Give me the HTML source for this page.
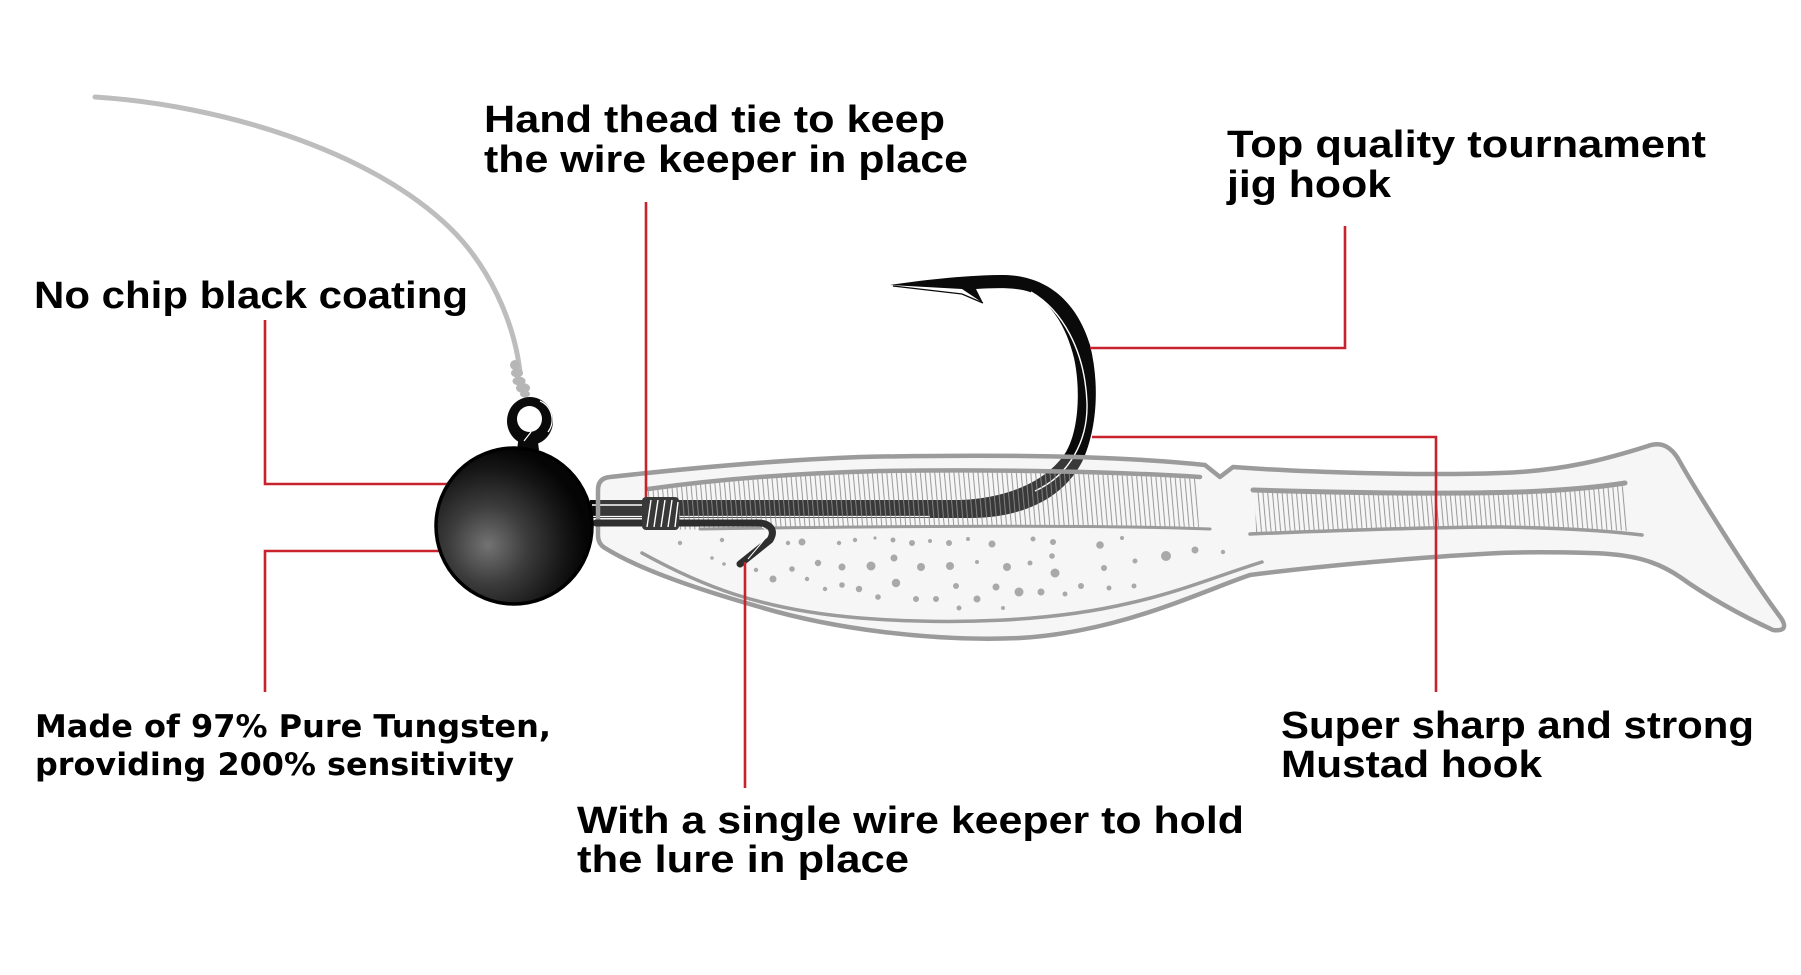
<!DOCTYPE html>
<html>
<head>
<meta charset="utf-8">
<style>
html,body{margin:0;padding:0;background:#fff;}
svg{display:block;}
</style>
</head>
<body>
<svg width="1801" height="975" viewBox="0 0 1801 975" xmlns="http://www.w3.org/2000/svg">
<defs>
  <radialGradient id="ballg" cx="488" cy="545" r="98" gradientUnits="userSpaceOnUse">
    <stop offset="0" stop-color="#737373"/>
    <stop offset="0.4" stop-color="#3c3c3c"/>
    <stop offset="0.78" stop-color="#161616"/>
    <stop offset="1" stop-color="#050505"/>
  </radialGradient>
  <pattern id="hatch" width="4.8" height="80" patternUnits="userSpaceOnUse" patternTransform="skewX(5)">
    <line x1="0.6" y1="0" x2="0.6" y2="80" stroke="#8c8c8c" stroke-width="0.9"/>
  </pattern>
  <path id="body" d="M610,477 C700,467 780,460 860,457 C1000,454 1120,456 1205,465 L1220,477 L1233,467 C1300,472 1420,476 1500,473 C1565,471 1610,458 1648,446 C1662,441 1672,447 1680,462 C1690,480 1745,570 1781,618 Q1790,632 1773,630 C1740,615 1705,595 1680,577 C1655,560 1630,554 1590,553 C1550,552 1525,552 1500,553 C1420,557 1320,566 1250,575 C1200,592 1120,632 1020,638 C930,642 830,628 760,607 C700,590 640,570 605,548 Q598,544 598,535 L598,490 Q598,478 610,477 Z"/>
</defs>

<rect width="1801" height="975" fill="#fff"/>

<!-- fishing line -->
<path d="M95,97 C220,105 370,150 450,228 C488,265 514,320 520,372" fill="none" stroke="#bdbdbd" stroke-width="5" stroke-linecap="round"/>

<!-- body fill -->
<use href="#body" fill="#f7f7f7"/>

<!-- hook -->
<path d="M590,500 L960,500 C1010,498 1048,480 1066,452 C1080,428 1080,385 1074,358 C1066,325 1050,302 1030,292 C1015,287 995,288 976,289 L983,303 L962,289 L890,285 C930,279 970,275 1005,275 C1050,276 1078,305 1090,345 C1100,385 1097,430 1082,462 C1062,500 1020,518 970,518 L590,518 Z" fill="#0a0a0a"/>
<path d="M893,286 L962,294 L983,303" stroke="#0a0a0a" stroke-width="1.3" fill="none"/>
<!-- shank highlights -->
<line x1="592" y1="505" x2="642" y2="505" stroke="#fff" stroke-width="1.6"/>
<line x1="592" y1="516.5" x2="930" y2="516.5" stroke="#fff" stroke-width="1.2"/>
<path d="M1031,292 C1062,310 1085,350 1087,403 C1088,440 1070,475 1035,491" fill="none" stroke="#fff" stroke-width="1.4"/>

<!-- translucent body over hook -->
<use href="#body" fill="rgba(247,247,247,0.2)"/>

<!-- hatched rib areas -->
<path d="M648,491 C720,481 800,475 880,473 C1000,471 1120,474 1196,479 L1199,527 C1100,526 900,527 648,530 Z" fill="url(#hatch)"/>
<path d="M1255,492 C1350,495 1450,496 1520,494 C1570,492 1600,489 1623,486 L1630,531 C1600,529 1560,527 1500,528 C1420,528 1330,530 1256,532 Z" fill="url(#hatch)"/>

<!-- body lines -->
<use href="#body" fill="none" stroke="#9b9b9b" stroke-width="4.5" stroke-linejoin="round"/>
<g fill="none" stroke="#9b9b9b" stroke-linecap="round">
  <path d="M648,489 C720,479 800,473 880,471 C1000,469 1120,472 1200,477" stroke-width="4.5"/>
  <path d="M700,529 C900,526 1100,525 1210,529" stroke-width="3"/>
  <path d="M1253,490 C1350,493 1450,494 1520,492 C1570,490 1600,487 1625,483" stroke-width="5"/>
  <path d="M1250,534 C1350,530 1440,527 1500,527 C1570,528 1610,531 1642,535" stroke-width="3.5"/>
  <path d="M642,553 C700,585 760,610 860,618 C950,625 1050,622 1130,603 C1180,592 1220,575 1262,562" stroke-width="3.5"/>
</g>

<!-- dots -->
<g fill="#a9a9a9">
<circle cx="680" cy="543" r="2.2"/><circle cx="722" cy="540" r="2.2"/><circle cx="712" cy="558" r="1.8"/>
<circle cx="724" cy="564" r="1.8"/><circle cx="756" cy="570" r="2.2"/><circle cx="788" cy="543" r="2.2"/>
<circle cx="802" cy="542" r="3.5"/><circle cx="792" cy="569" r="2.8"/><circle cx="818" cy="563" r="3.2"/>
<circle cx="773" cy="579" r="3.5"/><circle cx="807" cy="579" r="2.2"/><circle cx="825" cy="589" r="2.2"/>
<circle cx="839" cy="543" r="2.2"/><circle cx="855" cy="540" r="2.2"/><circle cx="842" cy="567" r="3.5"/>
<circle cx="842" cy="585" r="2.8"/><circle cx="859" cy="589" r="3.2"/><circle cx="871" cy="566" r="4.5"/>
<circle cx="878" cy="597" r="2.8"/><circle cx="875" cy="538" r="1.6"/><circle cx="893" cy="540" r="2.5"/>
<circle cx="894" cy="558" r="3.5"/><circle cx="896" cy="583" r="4.2"/><circle cx="912" cy="543" r="3"/>
<circle cx="930" cy="541" r="2"/><circle cx="949" cy="543" r="3"/><circle cx="968" cy="539" r="2"/>
<circle cx="992" cy="544" r="3.5"/><circle cx="1033" cy="539" r="2.5"/><circle cx="1053" cy="542" r="3"/>
<circle cx="1100" cy="545" r="3.8"/><circle cx="1122" cy="538" r="2"/><circle cx="921" cy="567" r="4"/>
<circle cx="950" cy="566" r="4"/><circle cx="977" cy="562" r="2"/><circle cx="1007" cy="567" r="4"/>
<circle cx="1030" cy="563" r="2.5"/><circle cx="1055" cy="573" r="4.5"/><circle cx="1052" cy="556" r="2.8"/>
<circle cx="1104" cy="568" r="3"/><circle cx="1135" cy="561" r="2.5"/><circle cx="1166" cy="556" r="5"/>
<circle cx="1195" cy="550" r="3.5"/><circle cx="1223" cy="552" r="2.2"/><circle cx="956" cy="586" r="3"/>
<circle cx="996" cy="587" r="3.5"/><circle cx="1019" cy="592" r="4.5"/><circle cx="1041" cy="592" r="3.5"/>
<circle cx="1065" cy="594" r="2.5"/><circle cx="1081" cy="586" r="3"/><circle cx="1109" cy="588" r="2.5"/>
<circle cx="1134" cy="586" r="2.5"/><circle cx="916" cy="599" r="3"/><circle cx="936" cy="599" r="3"/>
<circle cx="977" cy="599" r="3.5"/><circle cx="959" cy="608" r="2.5"/><circle cx="1003" cy="608" r="2"/>
</g>

<!-- wire keeper -->
<path d="M596,523 L758,523 C770,523 776,530 770,540 L740,564" fill="none" stroke="#2e2e2e" stroke-width="7" stroke-linecap="round" stroke-linejoin="round"/>
<path d="M762,527 C767,529 768,534 764,540 L748,559" fill="none" stroke="#fff" stroke-width="1"/>

<!-- thread wrap -->
<rect x="642" y="497" width="37" height="33" rx="4" fill="#383838"/>
<g stroke="#fff" stroke-width="1.4">
  <line x1="647" y1="527" x2="651" y2="500"/>
  <line x1="654" y1="527" x2="658" y2="500"/>
  <line x1="661" y1="527" x2="665" y2="500"/>
  <line x1="668" y1="527" x2="672" y2="500"/>
  <line x1="675" y1="527" x2="678" y2="502"/>
</g>

<!-- red leader lines -->
<g fill="none" stroke="#c8232c" stroke-width="2.6">
  <path d="M265,320 V484 H450"/>
  <path d="M441,551 H265 V692"/>
  <path d="M646,202 V497"/>
  <path d="M1345,226 V348 H1090"/>
  <path d="M1092,437 H1436 V692"/>
  <path d="M745,562 V788"/>
</g>

<!-- knots -->
<g fill="#b6b6b6">
  <ellipse cx="515" cy="365" rx="5" ry="5"/>
  <ellipse cx="517" cy="373" rx="6" ry="4.5"/>
  <ellipse cx="519" cy="381" rx="6.5" ry="4.5"/>
  <ellipse cx="523" cy="388" rx="7" ry="5"/>
  <ellipse cx="525" cy="394" rx="5" ry="3.5"/>
</g>

<!-- eye -->
<path d="M519,435 L537,435 L539,450 L517,450 Z" fill="#0a0a0a"/>
<ellipse cx="530" cy="421" rx="23" ry="24" fill="#0a0a0a"/>
<ellipse cx="529.5" cy="419" rx="12.5" ry="13" fill="#fff"/>
<path d="M540,401 A19,20 0 0 1 548,432" fill="none" stroke="#fff" stroke-width="1.3"/>
<path d="M524,441 L531,432" stroke="#fff" stroke-width="1.2"/>

<!-- ball -->
<circle cx="514" cy="526" r="78" fill="url(#ballg)" stroke="#000" stroke-width="3.5"/>

<!-- labels -->
<g font-family="'Liberation Sans', Arial, sans-serif" font-weight="700" font-size="38" fill="#000">
  <text x="484" y="132" textLength="461" lengthAdjust="spacingAndGlyphs">Hand thead tie to keep</text>
  <text x="484" y="172" textLength="484" lengthAdjust="spacingAndGlyphs">the wire keeper in place</text>
  <text x="34" y="308" textLength="434" lengthAdjust="spacingAndGlyphs">No chip black coating</text>
  <text x="1227" y="157" textLength="479" lengthAdjust="spacingAndGlyphs">Top quality tournament</text>
  <text x="1227" y="197" textLength="164" lengthAdjust="spacingAndGlyphs">jig hook</text>
  <text x="577" y="833" textLength="667" lengthAdjust="spacingAndGlyphs">With a single wire keeper to hold</text>
  <text x="577" y="872" textLength="332" lengthAdjust="spacingAndGlyphs">the lure in place</text>
  <text x="1281" y="738" textLength="473" lengthAdjust="spacingAndGlyphs">Super sharp and strong</text>
  <text x="1281" y="777" textLength="261" lengthAdjust="spacingAndGlyphs">Mustad hook</text>
</g>
<g font-family="'DejaVu Sans', 'Liberation Sans', sans-serif" font-weight="700" font-size="31" fill="#000">
  <text x="35" y="737" textLength="516" lengthAdjust="spacingAndGlyphs">Made of 97% Pure Tungsten,</text>
  <text x="35" y="775" textLength="479" lengthAdjust="spacingAndGlyphs">providing 200% sensitivity</text>
</g>
</svg>
</body>
</html>
